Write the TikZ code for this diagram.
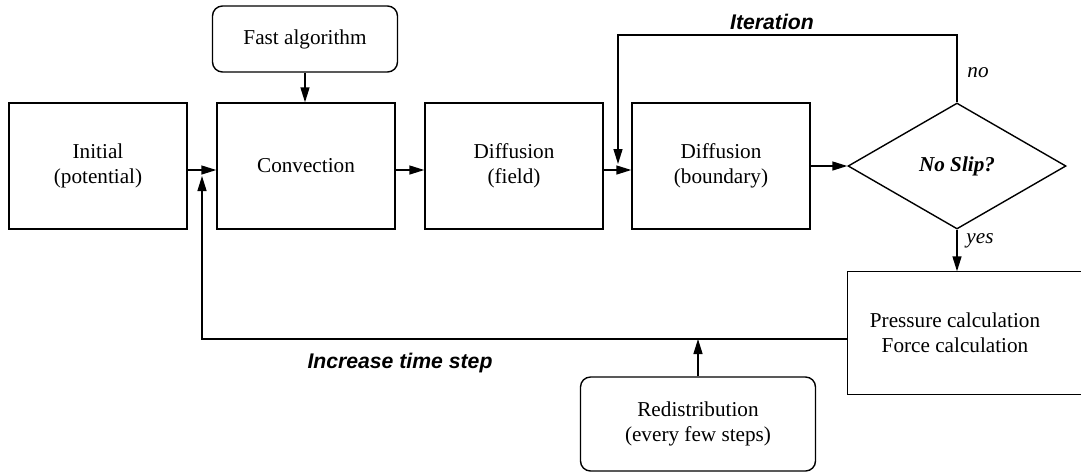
\documentclass[tikz,border=0pt]{standalone}
\usepackage{fontspec}
\setmainfont{Liberation Serif}
\newfontfamily\helvfont{Liberation Sans}
\usetikzlibrary{shapes.geometric,arrows.meta}

\begin{document}
\begin{tikzpicture}[x=0.5pt, y=-0.5pt, line width=0.7pt,
	font=\fontsize{10.6}{12.5}\selectfont,
	blk/.style={draw, rectangle, minimum width=89pt, minimum height=63pt, align=center, inner sep=0pt},
	rblk/.style={draw, rectangle, rounded corners=5pt, align=center, inner sep=0pt},
	lbl/.style={font=\fontsize{10.6}{12.5}\selectfont\helvfont\bfseries\itshape},
	arr/.style={-{Triangle[length=7.5pt,width=4.5pt]}}]
			\useasboundingbox (0,0) rectangle (1081,473);
			%main line of boxes
			\node (init) at (98, 166) [blk]{Initial\\(potential)};
			\node (conv) at (306, 166) [blk]{Convection};
			\node (field) at (514, 166) [blk]{Diffusion\\(field)};
			\node (bound) at (721, 166) [blk]{Diffusion\\(boundary)};
			\node (slip) at (957, 166) [draw, diamond, inner sep=0pt, minimum width=109pt, minimum height=63pt]{\bfseries\itshape No Slip?};
			\node (fast) at (305, 39) [rblk, minimum width=92.5pt, minimum height=33pt]{Fast algorithm};
			\node (redis) at (698, 424) [rblk, minimum width=117.5pt, minimum height=47pt]{Redistribution\\(every few steps)};
			\node (press) at (955, 333) [minimum width=107pt, minimum height=61pt, inner sep=0pt, align=center]{Pressure calculation\\Force calculation};
			\draw (press.north east) ++(200,0) -- (press.north west) -- (press.south west) -- ++(300,0);
			
			%labels
			\node (liter) at (772, 22) [lbl]{Iteration};
			\node (lincr) at (400, 363) [lbl]{Increase time step};
			\node (lno) at (978, 73) {\itshape no};
			\node (lyes) at (980, 241) {\itshape yes};
			
			%join points
			\coordinate (join0) at (202, 176);
			\coordinate (join1) at (618, 164);
			\coordinate (itr) at (618, 35);
			\coordinate (ret) at (698, 339);
			
			%arrows
			\draw[arr] ([yshift=-2pt]init.east) -- ([yshift=-2pt]conv.west);
			\draw[arr] ([yshift=-2pt]conv.east) -- ([yshift=-2pt]field.west);
			\draw[arr] ([yshift=-2pt]field.east) -- ([yshift=-2pt]bound.west);
			\draw[arr] (bound.east) -- (slip.west);
			\draw[arr] (fast.south) -- (fast.south |- conv.north);
			\draw[arr] (slip.south) -- (slip.south |- press.north);
			\draw[arr] (slip.north) |- (itr) -- (join1);
			\draw[arr] ([yshift=-3pt]press.west) -| (join0);
			\draw[arr] (redis.north) -- (redis.north |- ret);
		\end{tikzpicture}
\end{document}
